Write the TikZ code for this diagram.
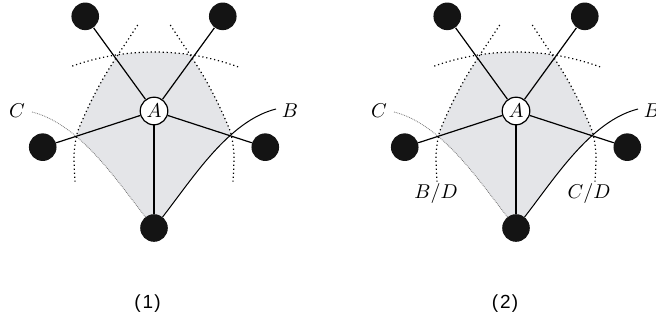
\documentclass[tikz,border=0pt]{standalone}
\usepackage{fontspec}
\newfontfamily\capfont{Liberation Sans}

\definecolor{zone}{RGB}{228,229,232}
\tikzset{
  hub/.style={circle, draw, fill=white, line width=0.6pt, minimum size=13.8pt, inner sep=0pt},
  leaf/.style={circle, fill=black!92, minimum size=13.8pt, inner sep=0pt},
  link/.style={line width=0.6pt},
  reach/.style={line width=0.6pt, dash pattern=on 0.6pt off 1.4pt},
  route/.style={line width=0.5pt},
  faint/.style={black!55, line width=0.4pt, dash pattern=on 0.4pt off 0.5pt},
}
% left reach border, right one is its mirror image
\newcommand\leftreach{plot[smooth] coordinates {(-16.3,86) (-27.3,69.3) (-37.3,54.3) (-50.7,32.7) (-62.3,11) (-72.3,-10.7) (-77.3,-24) (-80,-44) (-79,-70.7)}}

\begin{document}
\begin{tikzpicture}[x=0.5pt, y=0.5pt]
  \useasboundingbox (0,0) rectangle (656,322);

  \def\radius{117}

  \foreach \p/\dx/\cx in {1/154/-6.5, 2/516/-11} {
    \begin{scope}[shift={(\dx,211)}]

      % route ends
      \coordinate (cS\p) at (-122,-1);
      \coordinate (bS\p) at (122,2);
      \coordinate (cE\p) at (-8.5,-106.1);
      \coordinate (bE\p) at (8.5,-106.1);

      % shaded zone
      \begin{scope}
        \clip (0,-186) circle (245);
        \clip \leftreach -- (-79,-150) -- (200,-150) -- (200,86) -- cycle;
        \clip[xscale=-1] \leftreach -- (-79,-150) -- (200,-150) -- (200,86) -- cycle;
        \clip (cS\p) to[out=-14, in=128, looseness=0.8] (cE\p) -- (bE\p)
          to[out=52, in=194, looseness=0.8] (bS\p) -- (136,150) -- (-136,150) -- cycle;
        \fill[zone] (-200,-200) rectangle (200,200);
      \end{scope}

      % reach borders
      \draw[reach] (0,-186) ++(109.5:245) arc[start angle=109.5, end angle=69.5, radius=245];
      \draw[reach] \leftreach;
      \draw[reach, xscale=-1] \leftreach;

      % routes
      \draw[faint] (cS\p) to[out=-14, in=128, looseness=0.8] (cE\p);
      \draw[route] (bS\p) to[out=194, in=52, looseness=0.8] (bE\p);

      \node[hub] (A\p) at (0,0) {$A$};
      \node[leaf] (tr\p) at (54:\radius) {};
      \node[leaf] (tl\p) at (126:\radius) {};
      \node[leaf] (l\p) at (198:\radius) {};
      \node[leaf] (bot\p) at (270:\radius) {};
      \node[leaf] (r\p) at (342:\radius) {};

      \foreach \n in {tl,tr,l,r,bot}
        \draw[link] (A\p) -- (\n\p);

      \node (lC\p) at (-137,0) {$C$};
      \node (lB\p) at (136,0) {$B$};
      \node[font=\capfont\fontsize{9.5}{11}\selectfont] (cap\p) at (\cx,-192.5) {(\kern1pt\p\kern0.5pt)};
    \end{scope}
  }

  \node (bd) at (436,129) {$B/D$};
  \node (cd) at (589,129) {$C/D$};
\end{tikzpicture}
\end{document}
